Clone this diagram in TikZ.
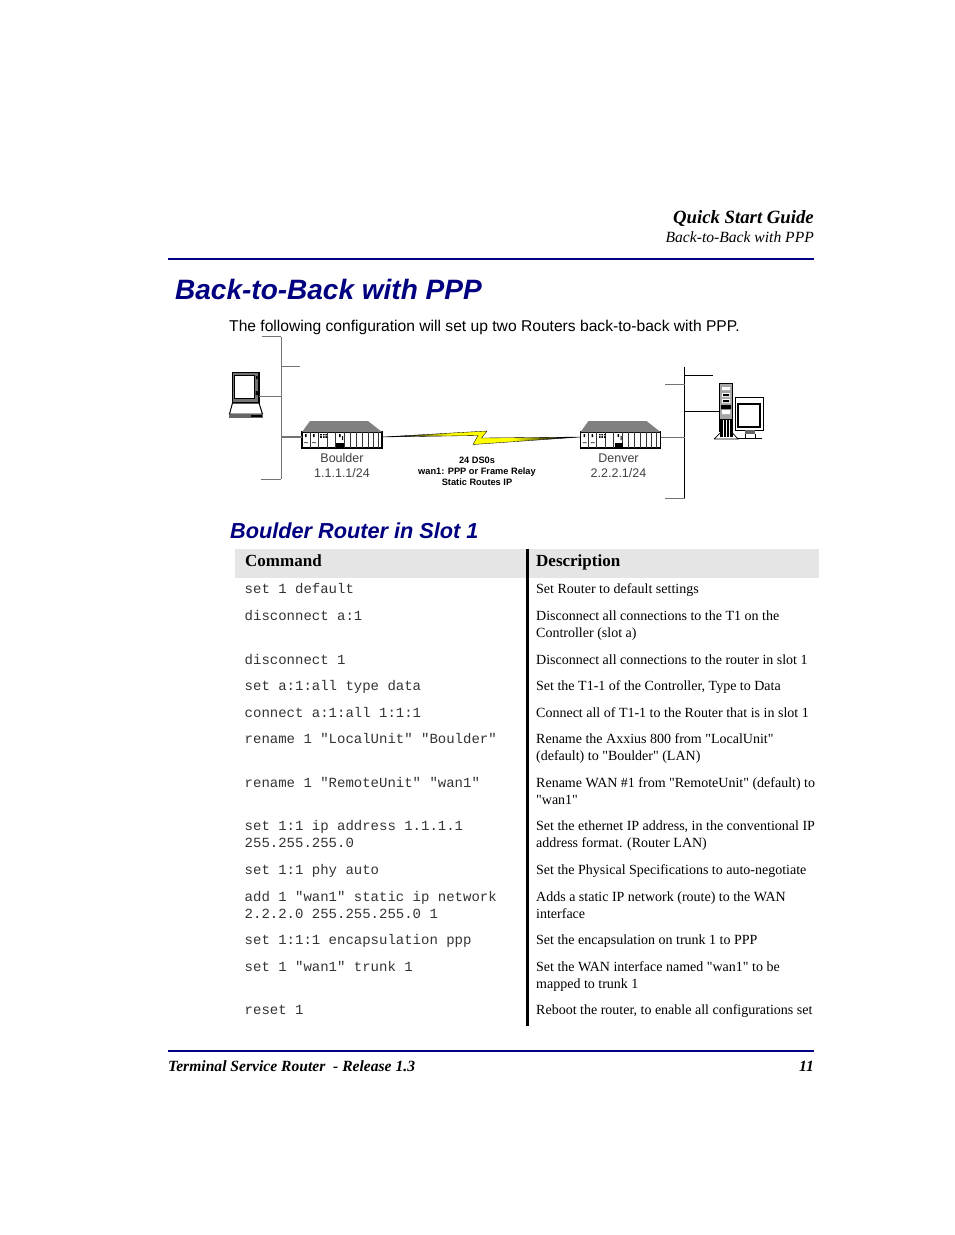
\documentclass[tikz,border=0pt]{standalone}
\usepackage{fontspec}
\setmainfont[Ligatures=TeXOff]{Liberation Serif}
\setsansfont[Ligatures=TeXOff]{Liberation Sans}
\setmonofont[Ligatures=TeXOff]{Liberation Mono}
\definecolor{navyink}{RGB}{0,0,128}
\definecolor{headgray}{RGB}{229,229,229}
\pgfdeclarehorizontalshading{boltfade}{100bp}{color(0bp)=(black); color(30bp)=(black); color(42bp)=(yellow); color(58bp)=(yellow); color(70bp)=(black); color(100bp)=(black)}
\tikzset{
    navyrule/.style={draw=navyink, line width=1.6pt},
    pagetext/.style={anchor=base west, inner sep=0pt},
    pageright/.style={anchor=base east, inner sep=0pt},
    cmdtext/.style={pagetext, font=\ttfamily\fontsize{14}{16}\selectfont, black!80},
    desctext/.style={pagetext, font=\fontsize{14}{17}\selectfont},
    headtext/.style={pagetext, font=\bfseries\fontsize{17}{20}\selectfont},
    sitetext/.style={anchor=base, inner sep=0pt, font=\sffamily\fontsize{12.5}{15}\selectfont, black!75},
    linktext/.style={anchor=base, inner sep=0pt, font=\sffamily\bfseries\fontsize{9.25}{11}\selectfont},
    grayline/.style={draw=black!55, line width=1pt},
    blackline/.style={draw=black, line width=1pt},
    routerbody/.style={draw=black, line width=1.1pt, fill=white, minimum width=80pt, minimum height=16pt, inner sep=0pt},
    pics/routerunit/.style={code={
        \node[routerbody] (-body) at (40,8) {};
        \coordinate (-portl) at (0,5);
        \coordinate (-portr) at (80,5);
        \fill[black!50] (0,0) -- (8,-11) -- (66,-11) -- (80,0) -- cycle;
        \foreach \xs in {8,16,25,33,42,48,54,60,66,71,76} {
            \draw[black!80, line width=0.6pt] (\xs,0) -- (\xs,16);
        }
        \fill[black] (18,1.5) rectangle (25,6);
        \fill[white] (20,1.5) rectangle (20.8,6) (22.6,1.5) rectangle (23.4,6) (18,3.4) rectangle (25,4.1);
        \fill[black] (34,11) rectangle (42,16);
        \fill[black] (3,2) rectangle (4.5,5) (11,2) rectangle (12.5,5) (37,2) rectangle (38.5,5) (40,4) rectangle (41,8);
        \fill[black!60] (2,10) rectangle (6,11) (10,10) rectangle (14,11);
    }},
}
\begin{document}
\begin{tikzpicture}[x=1pt, y=-1pt]
        \useasboundingbox (0,0) rectangle (954,1235);

        \node[pageright, font=\bfseries\itshape\fontsize{18.75}{22}\selectfont] (guide) at (814,223) {Quick Start Guide};
        \node[pageright, font=\itshape\fontsize{15.6}{18}\selectfont] (section) at (814,242) {Back-to-Back with PPP};
        \coordinate (topruleL) at (168,259);
        \coordinate (topruleR) at (814,259);
        \draw[navyrule] (topruleL) -- (topruleR);
        \node[pagetext, navyink, font=\sffamily\bfseries\itshape\fontsize{28}{34}\selectfont] (title) at (175,299) {Back-to-Back with PPP};
        \node[pagetext, font=\sffamily\fontsize{15.63}{19}\selectfont] (intro) at (229,331) {The following configuration will set up two Routers back-to-back with PPP.};

        \coordinate (lbusT) at (281,336.5);
        \coordinate (lbusB) at (281,479);
        \coordinate (lstubA) at (262,336.5);
        \coordinate (lstubB) at (300,366);
        \coordinate (lstubC) at (261,479);
        \draw[grayline] (lbusT) -- (lbusB);
        \draw[grayline] (lstubA) -- (lbusT);
        \draw[grayline] (lstubB) -- (lstubB -| lbusT);
        \draw[grayline] (lstubC) -- (lbusB);

        \coordinate (rbusT) at (684.5,366.5);
        \coordinate (rbusB) at (684.5,498);
        \coordinate (rstubA) at (713,375);
        \coordinate (rstubB) at (665,384);
        \coordinate (rstubC) at (665,498);
        \draw[blackline] (rbusT) -- (rbusB);
        \draw[blackline] (rstubA) -- (rstubA -| rbusT);
        \draw[grayline] (rstubB) -- (rstubB -| rbusT);
        \draw[grayline] (rstubC) -- (rbusB);

        \pic (boulder) at (302,432) {routerunit};
        \pic (denver) at (580.5,432) {routerunit};
        \draw[grayline, line width=1.3pt] (boulder-portl -| lbusT) -- (boulder-portl);
        \draw[grayline] (denver-portr) -- (denver-portr -| rbusT);
        \shadedraw[shading=boltfade, draw=black, line width=0.35pt] (boulder-portr) -- (487,431) -- (481.5,438) -- (denver-portl) -- (473,444.5) -- (478,435.5) -- cycle;

        \node[sitetext] (bname) at (342,462.5) {Boulder};
        \node[sitetext] (baddr) at (342,477.5) {1.1.1.1/24};
        \node[sitetext] (dname) at (618.5,462.5) {Denver};
        \node[sitetext] (daddr) at (618.5,477.5) {2.2.2.1/24};
        \node[linktext] (linkA) at (477,463) {24 DS0s};
        \node[linktext] (linkB) at (477,474) {wan1: PPP or Frame Relay};
        \node[linktext] (linkC) at (477,485) {Static Routes IP};

        % laptop
        \coordinate (lapport) at (259,396);
        \draw[black, line width=1.2pt, fill=black!55] (232.5,372.5) rectangle (259,403);
        \draw[black, line width=0.8pt, fill=white] (234.5,375.5) rectangle (254,398);
        \fill[black] (256,376) rectangle (257.5,379) (255.5,391) rectangle (258,395);
        \draw[black, line width=1pt, fill=white] (232.5,403) -- (229.5,414) -- (262.5,414) -- (259,403) -- cycle;
        \fill[black!60] (229,414) rectangle (263,418);
        \fill[black] (251,415) rectangle (262,417);
        \draw[grayline] (lapport) -- (lapport -| lbusT);

        % tower and monitor
        \coordinate (pcport) at (719,411);
        \draw[black, line width=1pt, fill=black!35] (719.5,383.5) rectangle (732.5,431);
        \fill[white] (722,387) rectangle (730,390) (722,393) rectangle (730,397) (722,399) rectangle (730,403) (722,410) rectangle (730,414);
        \fill[black] (723,394) rectangle (729,396) (723,400) rectangle (729,402) (721,405) rectangle (731,409);
        \fill[black] (720,419) rectangle (732.5,437);
        \foreach \xs in {723,726,729} {
            \draw[white, line width=0.5pt] (\xs,420) -- (\xs,437);
        }
        \draw[black, line width=0.7pt] (714,439) -- (720,433) (732.5,433) -- (738,439) -- (714,439);
        \draw[black, line width=0.8pt, fill=white] (735,397.5) rectangle (763,430);
        \draw[black, line width=1.3pt, fill=white] (738,404) rectangle (760,427);
        \fill[black!60] (745,430) rectangle (755,434);
        \draw[black, line width=0.7pt] (738,438) -- (762,438) (745,434) -- (745,438) (755,434) -- (755,438);
        \draw[blackline] (pcport) -- (pcport -| rbusT);

        \node[pagetext, navyink, font=\sffamily\bfseries\itshape\fontsize{21.7}{26}\selectfont] (subtitle) at (230,538) {Boulder Router in Slot 1};

        \fill[headgray] (235,549) rectangle (819,578);
        \coordinate (barT) at (527,549);
        \coordinate (barB) at (527,1026);
        \draw[black, line width=3pt] (barT) -- (barB);
        \node[headtext] (cmdhead) at (245,566) {Command};
        \node[headtext] (deschead) at (536,566) {Description};

        \node[cmdtext] (cmdA) at (244.5,593) {set 1 default};
        \node[desctext] (descA) at (536,593) {Set Router to default settings};
        \node[cmdtext] (cmdB) at (244.5,620) {disconnect a:1};
        \node[desctext] (descB) at (536,620) {Disconnect all connections to the T1 on the};
        \node[desctext] (descBb) at (536,637) {Controller (slot a)};
        \node[cmdtext] (cmdC) at (244.5,664) {disconnect 1};
        \node[desctext] (descC) at (536,664) {Disconnect all connections to the router in slot 1};
        \node[cmdtext] (cmdD) at (244.5,690) {set a:1:all type data};
        \node[desctext] (descD) at (536,690) {Set the T1-1 of the Controller, Type to Data};
        \node[cmdtext] (cmdE) at (244.5,717) {connect a:1:all 1:1:1};
        \node[desctext] (descE) at (536,717) {Connect all of T1-1 to the Router that is in slot 1};
        \node[cmdtext] (cmdF) at (244.5,743) {rename 1 "LocalUnit" "Boulder"};
        \node[desctext] (descF) at (536,743) {Rename the Axxius 800 from "LocalUnit"};
        \node[desctext] (descFb) at (536,760) {(default) to "Boulder" (LAN)};
        \node[cmdtext] (cmdG) at (244.5,787) {rename 1 "RemoteUnit" "wan1"};
        \node[desctext] (descG) at (536,787) {Rename WAN \#1 from "RemoteUnit" (default) to};
        \node[desctext] (descGb) at (536,804) {"wan1"};
        \node[cmdtext] (cmdH) at (244.5,830) {set 1:1 ip address 1.1.1.1};
        \node[cmdtext] (cmdHb) at (244.5,847) {255.255.255.0};
        \node[desctext] (descH) at (536,830) {Set the ethernet IP address, in the conventional IP};
        \node[desctext] (descHb) at (536,847) {address format. (Router LAN)};
        \node[cmdtext] (cmdI) at (244.5,874) {set 1:1 phy auto};
        \node[desctext] (descI) at (536,874) {Set the Physical Specifications to auto-negotiate};
        \node[cmdtext] (cmdJ) at (244.5,901) {add 1 "wan1" static ip network};
        \node[cmdtext] (cmdJb) at (244.5,918) {2.2.2.0 255.255.255.0 1};
        \node[desctext] (descJ) at (536,901) {Adds a static IP network (route) to the WAN};
        \node[desctext] (descJb) at (536,918) {interface};
        \node[cmdtext] (cmdK) at (244.5,944) {set 1:1:1 encapsulation ppp};
        \node[desctext] (descK) at (536,944) {Set the encapsulation on trunk 1 to PPP};
        \node[cmdtext] (cmdL) at (244.5,971) {set 1 "wan1" trunk 1};
        \node[desctext] (descL) at (536,971) {Set the WAN interface named "wan1" to be};
        \node[desctext] (descLb) at (536,988) {mapped to trunk 1};
        \node[cmdtext] (cmdM) at (244.5,1014) {reset 1};
        \node[desctext] (descM) at (536,1014) {Reboot the router, to enable all configurations set};

        \coordinate (footruleL) at (168,1051);
        \coordinate (footruleR) at (814,1051);
        \draw[navyrule] (footruleL) -- (footruleR);
        \node[pagetext, font=\bfseries\itshape\fontsize{15.6}{18}\selectfont] (foot) at (168,1071) {Terminal Service Router\ \ - Release 1.3};
        \node[pageright, font=\bfseries\itshape\fontsize{15.6}{18}\selectfont] (page) at (814,1071) {11};
    \end{tikzpicture}
\end{document}
